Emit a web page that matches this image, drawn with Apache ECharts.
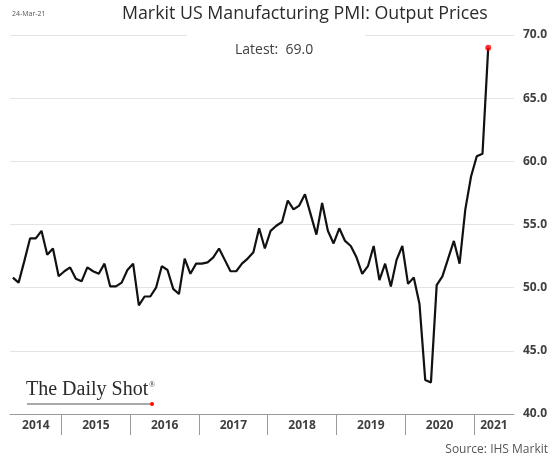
<!DOCTYPE html>
<html>
<head>
<meta charset="utf-8">
<script src="https://cdn.jsdelivr.net/npm/echarts@6/dist/echarts.min.js"></script>
<style>
  html, body { margin: 0; background: #fff; }
  #chart { width: 560px; height: 461px; }
</style>
</head>
<body>
<div id="chart"></div>
<script>
// axis runs Apr-2014 .. Jul-2021, the series stops at the Mar-2021 flash reading
var firstMonth = [2014, 4]
var lastAxisMonth = [2021, 7]
var months = []
for (var y = firstMonth[0], m = firstMonth[1]; y < lastAxisMonth[0] || (y === lastAxisMonth[0] && m <= lastAxisMonth[1]); m++) {
  if (m > 12) { m = 1; y++ }
  months.push(y + '-' + (m < 10 ? '0' + m : m))
}

var prices = [
  50.8, 50.4, 52.1, 53.9, 53.9, 54.5, 52.6, 53.1, 50.9,
  51.3, 51.6, 50.7, 50.5, 51.6, 51.3, 51.1, 51.9, 50.1, 50.1, 50.4, 51.4,
  51.9, 48.6, 49.3, 49.3, 50.0, 51.7, 51.4, 49.9, 49.5, 52.3, 51.1, 51.9,
  51.9, 52.0, 52.4, 53.1, 52.2, 51.3, 51.3, 51.9, 52.3, 52.8, 54.7, 53.1,
  54.5, 54.9, 55.2, 56.9, 56.2, 56.5, 57.4, 55.8, 54.2, 56.7, 54.5, 53.5,
  54.7, 53.7, 53.3, 52.4, 51.1, 51.7, 53.3, 50.6, 51.9, 50.1, 52.2, 53.3,
  50.3, 50.8, 48.7, 42.7, 42.5, 50.2, 50.9, 52.3, 53.7, 51.9, 56.2, 58.8,
  60.4, 60.6, 69.0
]

var yearLabels = ['2014', '2015', '2016', '2017', '2018', '2019', '2020', '2021']
var yMin = 40
var yMax = 70
var yStep = 5

// year separators sit on the Dec/Jan boundary, labels in the middle of each year span
var yearStart = {}
months.forEach(function (d, i) {
  var yr = d.slice(0, 4)
  if (!(yr in yearStart)) yearStart[yr] = i
})
var yearTicks = yearLabels.slice(1).map(function (yr) { return yearStart[yr] })
var yearMids = []
var midLabel = {}
yearLabels.forEach(function (yr, k) {
  var a = yearStart[yr]
  var b = k < yearLabels.length - 1 ? yearStart[yearLabels[k + 1]] : months.length
  var mid = (a + b) / 2
  yearMids.push(mid)
  midLabel[mid] = yr
})

var last = prices.length - 1
var chart = echarts.init(document.getElementById('chart'))

chart.setOption({
  animation: false,
  backgroundColor: '#fff',
  title: {
    text: 'Markit US Manufacturing PMI: Output Prices',
    left: 117,
    top: 0,
    textStyle: {
      fontFamily: 'Open Sans',
      fontSize: 17.8,
      fontWeight: 'normal',
      color: '#2b2b2b'
    }
  },
  grid: {
    left: 10,
    right: 46,
    top: 35,
    bottom: 47
  },
  xAxis: [
    {
      type: 'category',
      data: months,
      boundaryGap: true,
      show: false
    },
    {
      type: 'value',
      min: 0,
      max: months.length,
      position: 'bottom',
      axisLine: { show: true, lineStyle: { color: '#9a9a9a', width: 1 } },
      axisTick: {
        show: true,
        customValues: yearTicks,
        length: 21,
        lineStyle: { color: '#9a9a9a', width: 1 }
      },
      axisLabel: {
        customValues: yearMids,
        margin: 6,
        fontFamily: 'Open Sans',
        fontSize: 12,
        fontWeight: 'bold',
        color: '#404040',
        formatter: function (v) { return midLabel[v] || '' }
      },
      splitLine: { show: false }
    }
  ],
  yAxis: {
    type: 'value',
    position: 'right',
    min: yMin,
    max: yMax,
    interval: yStep,
    axisLine: { show: false },
    axisTick: { show: false },
    axisLabel: {
      margin: 9,
      fontFamily: 'Open Sans',
      fontSize: 12,
      fontWeight: 'bold',
      color: '#404040',
      formatter: function (v) { return v.toFixed(1) }
    },
    splitLine: { lineStyle: { color: '#e4e4e4', width: 1 } }
  },
  series: [
    {
      type: 'line',
      xAxisIndex: 0,
      data: prices,
      showSymbol: false,
      lineStyle: { color: '#111', width: 2.2 },
      z: 3
    },
    {
      type: 'scatter',
      xAxisIndex: 0,
      data: prices.map(function (v, i) { return i === last ? v : '-' }),
      symbol: 'circle',
      symbolSize: 6,
      itemStyle: { color: '#ff0000' },
      z: 4
    }
  ],
  graphic: [
    {
      // white box of the title area breaks the top gridline
      type: 'rect',
      shape: { x: 187, y: 31, width: 178, height: 8 },
      style: { fill: '#fff' },
      z: 10
    },
    {
      type: 'text',
      left: 12,
      top: 10,
      style: { text: '24-Mar-21', fontFamily: 'Open Sans', fontSize: 7, fill: '#555' },
      z: 11
    },
    {
      type: 'text',
      left: 235,
      top: 43,
      style: {
        text: 'Latest:  ' + prices[last].toFixed(1),
        fontFamily: 'Open Sans',
        fontSize: 14,
        fill: '#404040'
      },
      z: 11
    },
    {
      type: 'text',
      left: 26,
      top: 380,
      style: { text: 'The Daily Shot', fontFamily: 'Liberation Serif', fontSize: 20, fill: '#2a2a2a' },
      z: 11
    },
    {
      type: 'text',
      left: 149,
      top: 381,
      style: { text: '®', fontFamily: 'Liberation Serif', fontSize: 8, fill: '#333' },
      z: 11
    },
    {
      type: 'line',
      shape: { x1: 27, y1: 404, x2: 150, y2: 404 },
      style: { stroke: '#555', lineWidth: 1 },
      z: 11
    },
    {
      type: 'circle',
      shape: { cx: 152, cy: 404, r: 2 },
      style: { fill: '#ff0000' },
      z: 12
    },
    {
      type: 'text',
      right: 12,
      top: 444,
      style: { text: 'Source: IHS Markit', fontFamily: 'Open Sans', fontSize: 12, fill: '#555' },
      z: 11
    }
  ]
})
</script>
</body>
</html>
